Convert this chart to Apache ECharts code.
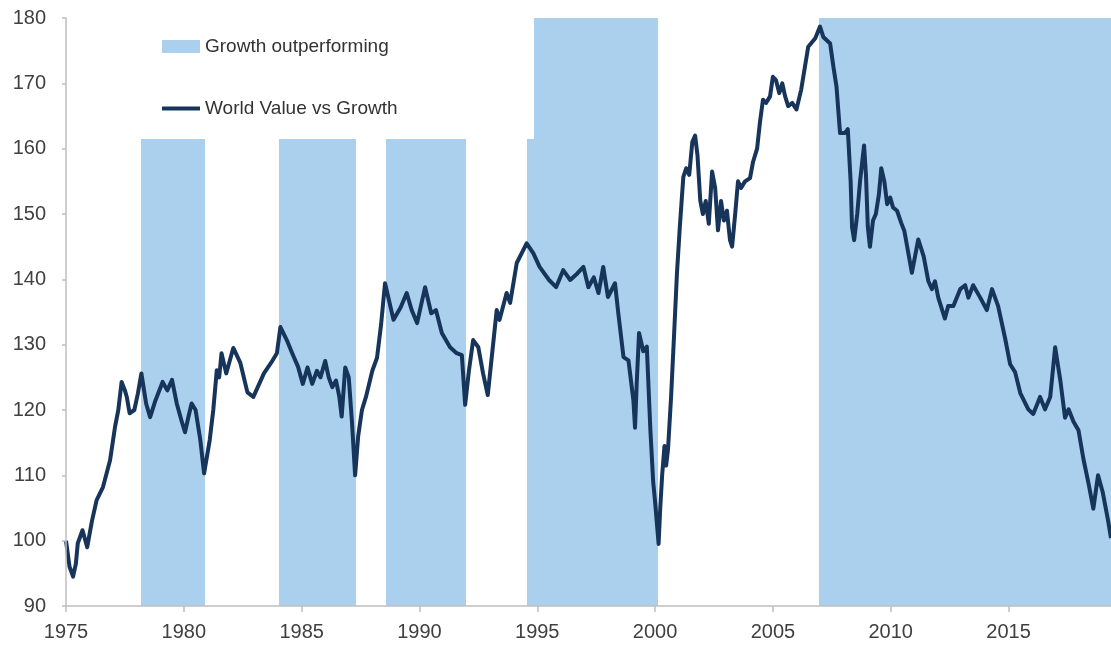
<!DOCTYPE html>
<html>
<head>
<meta charset="utf-8">
<script src="https://cdn.jsdelivr.net/npm/echarts@6/dist/echarts.min.js"></script>
<style>
html,body{margin:0;padding:0;background:#fff;}
#chart{width:1111px;height:647px;}
</style>
</head>
<body>
<div id="chart"></div>
<script>
// Line: World Value vs Growth
const years = [
1975.00,1975.15,1975.30,1975.42,1975.50,1975.70,1975.90,1976.10,1976.30,1976.57,1976.87,1977.08,1977.22,1977.36,1977.50,1977.58,1977.70,1977.90,
1978.05,1978.20,1978.40,1978.57,1978.80,1979.10,1979.30,1979.50,1979.70,1979.90,1980.05,1980.20,1980.33,1980.50,1980.70,1980.86,
1981.10,1981.25,1981.40,1981.50,1981.60,1981.80,1982.10,1982.40,1982.70,1982.95,1983.20,1983.40,1983.70,1983.95,
1984.10,1984.37,1984.60,1984.85,1985.05,1985.25,1985.45,1985.65,1985.80,1986.00,1986.15,1986.30,1986.46,1986.60,1986.70,1986.85,
1987.00,1987.14,1987.27,1987.40,1987.56,1987.73,1988.00,1988.20,1988.37,1988.54,1988.90,1989.20,1989.46,1989.67,1989.90,
1990.24,1990.50,1990.70,1990.95,1991.30,1991.58,1991.80,1991.94,1992.10,1992.28,1992.50,1992.70,1992.90,1993.28,1993.40,1993.70,1993.85,
1994.13,1994.55,1994.83,1995.10,1995.50,1995.80,1996.10,1996.40,1996.70,1996.96,1997.17,1997.40,1997.60,1997.80,1998.00,1998.30,1998.44,
1998.66,1998.87,1999.08,1999.15,1999.22,1999.32,1999.50,1999.65,1999.80,1999.92,2000.00,2000.15,2000.22,2000.30,2000.40,2000.47,2000.55,
2000.68,2000.80,2000.93,2001.05,2001.20,2001.32,2001.45,2001.58,2001.70,2001.80,2001.92,2002.03,2002.15,2002.28,2002.42,2002.55,2002.67,
2002.80,2002.92,2003.05,2003.18,2003.27,2003.40,2003.52,2003.65,2003.82,2004.03,2004.16,2004.33,2004.45,2004.58,2004.71,2004.88,
2005.00,2005.13,2005.27,2005.40,2005.52,2005.65,2005.82,2006.00,2006.20,2006.50,2006.80,2007.00,2007.14,2007.43,2007.57,2007.70,2007.85,
2008.06,2008.18,2008.30,2008.36,2008.45,2008.58,2008.70,2008.87,2008.95,2009.03,2009.12,2009.25,2009.37,2009.50,2009.60,2009.73,2009.85,2009.98,
2010.10,2010.27,2010.45,2010.58,2010.90,2011.17,2011.40,2011.60,2011.75,2011.88,2012.02,2012.30,2012.44,2012.66,2012.95,2013.16,2013.30,
2013.50,2013.80,2014.08,2014.30,2014.56,2014.86,2015.07,2015.28,2015.50,2015.84,2016.05,2016.34,2016.55,2016.77,2016.98,2017.20,2017.40,
2017.55,2017.76,2017.97,2018.18,2018.40,2018.60,2018.80,2019.00,2019.23,2019.35
];
const values = [
100.0,96.0,94.5,96.5,99.6,101.6,99.0,103.0,106.2,108.2,112.3,117.4,120.0,124.3,123.0,122.0,119.5,120.0,
122.5,125.6,121.0,118.9,121.5,124.3,123.0,124.6,121.0,118.4,116.6,119.0,121.0,120.0,115.4,110.3,
115.4,120.0,126.1,125.0,128.7,125.6,129.5,127.2,122.7,122.0,124.0,125.6,127.2,128.7,
132.7,130.7,128.7,126.6,124.0,126.5,124.0,126.0,125.0,127.5,125.0,123.5,124.5,122.0,119.0,126.5,
125.0,118.0,110.0,116.0,120.0,122.0,126.0,128.0,133.0,139.4,133.8,135.7,137.9,135.3,133.3,
138.8,134.8,135.3,131.8,129.6,128.7,128.4,120.8,126.0,130.7,129.6,125.6,122.3,135.3,133.8,137.9,136.4,
142.5,145.5,144.0,141.9,139.9,138.8,141.4,139.9,140.9,141.9,138.8,140.3,137.9,141.9,137.3,139.4,134.8,
128.1,127.6,121.5,117.3,124.0,131.8,129.0,129.7,117.0,109.0,106.0,99.5,105.0,110.0,114.5,111.5,114.0,
122.0,131.0,141.0,148.0,155.7,157.0,156.0,161.0,162.0,159.0,152.0,150.0,152.0,148.5,156.5,154.0,147.5,
152.0,149.0,150.5,146.0,145.0,150.0,155.0,154.0,155.0,155.5,158.0,160.0,164.0,167.5,167.0,168.0,
171.0,170.5,168.5,170.0,168.0,166.5,167.0,166.0,169.0,175.6,176.9,178.7,177.1,176.1,172.5,169.5,162.4,
162.4,163.0,155.0,148.0,146.0,150.0,155.0,160.5,156.0,148.0,145.0,149.0,150.0,153.0,157.0,155.0,151.5,152.5,
151.0,150.5,148.6,147.4,141.0,146.1,143.5,139.7,138.5,139.7,137.2,134.0,135.9,135.9,138.5,139.1,137.2,
139.1,137.2,135.3,138.5,135.9,130.9,127.0,125.8,122.6,120.1,119.4,122.0,120.1,122.0,129.6,124.5,118.8,
120.1,118.2,116.9,112.5,108.7,104.9,110.0,107.4,103.0,100.4
];
// Shaded periods: Growth outperforming
const growthStart = [1978.17, 1984.04, 1988.57, 1994.55, 1994.88, 2006.97];
const growthEnd   = [1980.92, 1987.31, 1991.97, 1994.88, 2000.11, 2019.35];
const growthTop   = [161.5, 161.5, 161.5, 161.5, 180, 180];
// Tick labels
const xTicks = [1975, 1980, 1985, 1990, 1995, 2000, 2005, 2010, 2015];
const yMin = 90, yMax = 180, yStep = 10;
const xMin = 1975, xMax = 2019.35;

const lineData = years.map((y, i) => [y, values[i]]);
const shadeData = growthStart.map((s, i) => [s, growthEnd[i], growthTop[i]]);

const FONT = "'Liberation Sans', Arial, sans-serif";
const chart = echarts.init(document.getElementById('chart'), null, {renderer: 'canvas'});
chart.setOption({
  animation: false,
  backgroundColor: '#ffffff',
  grid: {left: 66, right: 0, top: 18, bottom: 41, containLabel: false},
  legend: [
    {
      left: 162, top: 37, padding: 0, orient: 'vertical',
      itemWidth: 38, itemHeight: 13,
      data: [{name: 'Growth outperforming', icon: 'rect'}],
      textStyle: {fontFamily: FONT, fontSize: 19, color: '#333333'}
    },
    {
      left: 162, top: 99, padding: 0, orient: 'vertical',
      itemWidth: 38, itemHeight: 4,
      data: [{name: 'World Value vs Growth', icon: 'rect'}],
      textStyle: {fontFamily: FONT, fontSize: 19, color: '#333333'}
    }
  ],
  xAxis: {
    type: 'value', min: xMin, max: xMax, interval: 5, z: 5,
    axisLine: {show: true, lineStyle: {color: '#bfbfbf', width: 1.5}},
    axisTick: {show: true, length: 6, customValues: xTicks, lineStyle: {color: '#bfbfbf', width: 1.5}},
    axisLabel: {customValues: xTicks, margin: 16, fontFamily: FONT, fontSize: 20, color: '#404040', formatter: v => String(v)},
    splitLine: {show: false}
  },
  yAxis: {
    type: 'value', min: yMin, max: yMax, interval: yStep, z: 5,
    axisLine: {show: true, lineStyle: {color: '#bfbfbf', width: 1.5}},
    axisTick: {show: true, length: 4, lineStyle: {color: '#bfbfbf', width: 1.5}},
    axisLabel: {margin: 20, fontFamily: FONT, fontSize: 20, color: '#404040'},
    splitLine: {show: false}
  },
  series: [
    {
      name: 'Growth outperforming',
      type: 'custom',
      color: '#abd0ee',
      itemStyle: {color: '#abd0ee'},
      encode: {x: [0, 1], y: 2},
      data: shadeData,
      z: 1,
      renderItem: function (params, api) {
        const p0 = api.coord([api.value(0), api.value(2)]);
        const p1 = api.coord([api.value(1), yMin]);
        const x0 = Math.round(p0[0]), x1 = Math.round(p1[0]);
        const y0 = Math.round(p0[1]), y1 = Math.round(p1[1]);
        return {
          type: 'rect',
          shape: {x: x0, y: y0, width: x1 - x0, height: y1 - y0},
          style: {fill: '#abd0ee'}
        };
      }
    },
    {
      name: 'World Value vs Growth',
      type: 'line',
      color: '#17345a',
      data: lineData,
      showSymbol: false,
      symbol: 'none',
      z: 3,
      lineStyle: {color: '#17345a', width: 4, join: 'round'},
      itemStyle: {color: '#17345a'}
    }
  ]
});
</script>
</body>
</html>
